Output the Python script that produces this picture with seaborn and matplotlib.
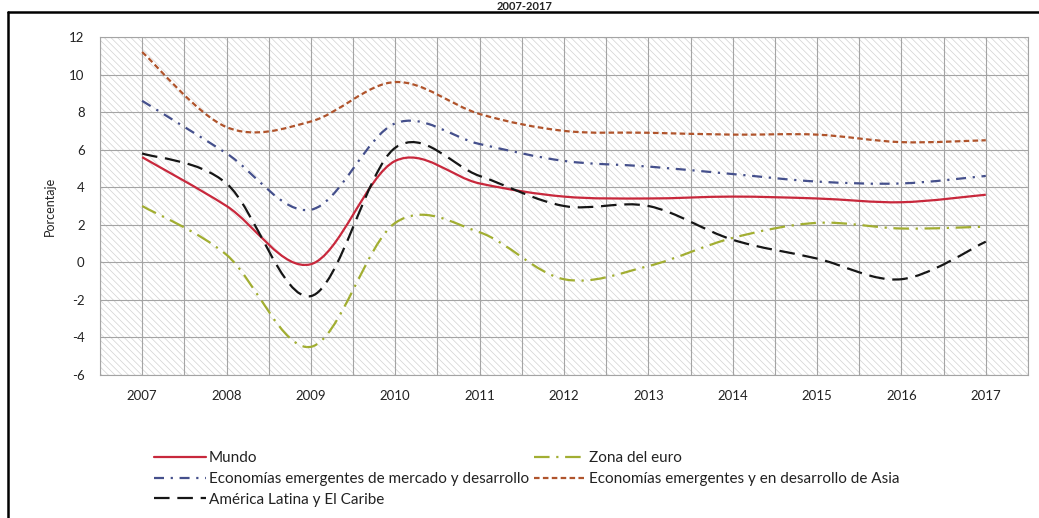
import numpy as np
import pandas as pd
import seaborn as sns
import matplotlib.pyplot as plt
from matplotlib.path import Path
from matplotlib.patches import PathPatch, Rectangle
from matplotlib.lines import Line2D

# Crecimiento del PIB real, 2007-2017 (porcentaje)
years = [2007, 2008, 2009, 2010, 2011, 2012, 2013, 2014, 2015, 2016, 2017]
mundo = [5.6, 3.0, -0.1, 5.4, 4.2, 3.5, 3.4, 3.5, 3.4, 3.2, 3.6]
zona_euro = [3.0, 0.4, -4.5, 2.1, 1.6, -0.9, -0.2, 1.3, 2.1, 1.8, 1.9]
emergentes = [8.6, 5.8, 2.8, 7.4, 6.3, 5.4, 5.1, 4.7, 4.3, 4.2, 4.6]
asia = [11.2, 7.2, 7.5, 9.6, 7.9, 7.0, 6.9, 6.8, 6.8, 6.4, 6.5]
america_latina = [5.8, 4.2, -1.8, 6.1, 4.6, 3.0, 3.0, 1.2, 0.2, -0.9, 1.1]

series = {
    'Mundo': mundo,
    'Economías emergentes de mercado y desarrollo': emergentes,
    'América Latina y El Caribe': america_latina,
    'Zona del euro': zona_euro,
    'Economías emergentes y en desarrollo de Asia': asia,
}
colors = {
    'Mundo': '#c8283c',
    'Economías emergentes de mercado y desarrollo': '#45508c',
    'América Latina y El Caribe': '#161616',
    'Zona del euro': '#a2ae32',
    'Economías emergentes y en desarrollo de Asia': '#b0542c',
}
dashes = {
    'Mundo': None,
    'Economías emergentes de mercado y desarrollo': (4.5, 3, 1, 3),
    'América Latina y El Caribe': (7, 3.5),
    'Zona del euro': (7, 3, 1, 3),
    'Economías emergentes y en desarrollo de Asia': (2.5, 1.5),
}

df = pd.DataFrame([(s, y, v) for s, vals in series.items() for y, v in zip(years, vals)],
                  columns=['Serie', 'Año', 'Valor'])

sns.set_theme(style='white')
plt.rcParams['font.family'] = ['Lato', 'DejaVu Sans']
plt.rcParams['axes.unicode_minus'] = False
plt.rcParams['hatch.linewidth'] = 0.5


def smooth_path(x, y):
    # curva suavizada tipo Excel (Bezier con puntos de control Catmull-Rom)
    pts = np.column_stack([x, y]).astype(float)
    n = len(pts)
    verts = [pts[0]]
    codes = [Path.MOVETO]
    for i in range(n - 1):
        p0 = pts[max(i - 1, 0)]
        p1 = pts[i]
        p2 = pts[i + 1]
        p3 = pts[min(i + 2, n - 1)]
        verts += [p1 + (p2 - p0) / 6, p2 - (p3 - p1) / 6, p2]
        codes += [Path.CURVE4] * 3
    return Path(verts, codes)


fig = plt.figure(figsize=(10.39, 5.18), dpi=100)
ax = fig.add_axes([0.0962, 0.2761, 0.8932, 0.6525])

# fondo rayado del área de trazado
ax.add_patch(Rectangle((0, 0), 1, 1, transform=ax.transAxes, facecolor='white',
                       edgecolor='#d2d2d2', linewidth=0, hatch='\\\\\\\\\\', zorder=0.1))

handles = []
for name, g in df.groupby('Serie', sort=False):
    ls = '-' if dashes[name] is None else (0, dashes[name])
    patch = PathPatch(smooth_path(g['Año'], g['Valor']), fill=False,
                      edgecolor=colors[name], lw=1.6, linestyle=ls,
                      capstyle='butt', zorder=3)
    ax.add_patch(patch)
    h = Line2D([], [], color=colors[name], lw=1.6, linestyle='-')
    if dashes[name] is not None:
        h.set_dashes(dashes[name])
    handles.append(h)

ax.set_xlim(2006.5, 2017.5)
ax.set_ylim(-6, 12)
ax.set_xticks(years)
ax.set_xticks(np.arange(2006.5, 2018, 1.0), minor=True)
ax.set_yticks(range(-6, 13, 2))
ax.grid(True, which='both', color='#a4a4a4', lw=0.8, zorder=0.5)
ax.set_axisbelow(True)
ax.tick_params(axis='both', which='both', length=0, labelsize=9.5, colors='#222222')
ax.tick_params(axis='x', pad=11)
ax.tick_params(axis='y', pad=11)
for sp in ax.spines.values():
    sp.set_color('#a4a4a4')
    sp.set_linewidth(0.8)
ax.set_xlabel('')
ax.set_ylabel('Porcentaje', fontsize=9, color='#222222', labelpad=10)

fig.legend(handles, list(series.keys()), ncol=2, frameon=False,
           loc='upper left', bbox_to_anchor=(0.142, 0.141), fontsize=11,
           handlelength=3.4, handletextpad=0.2, labelspacing=0.45,
           columnspacing=0.35, borderaxespad=0, labelcolor='#222222')

# marco exterior y título
fig.add_artist(Line2D([0.0077, 0.0077], [0, 0.9768], color='black', lw=1.8))
fig.add_artist(Line2D([0.0077, 1.0], [0.9768, 0.9768], color='black', lw=1.8))
fig.text(0.505, 0.981, '2007-2017', ha='center', va='baseline',
         fontsize=8, fontweight='bold', color='#222222')

fig.savefig('out.png', dpi=100)
